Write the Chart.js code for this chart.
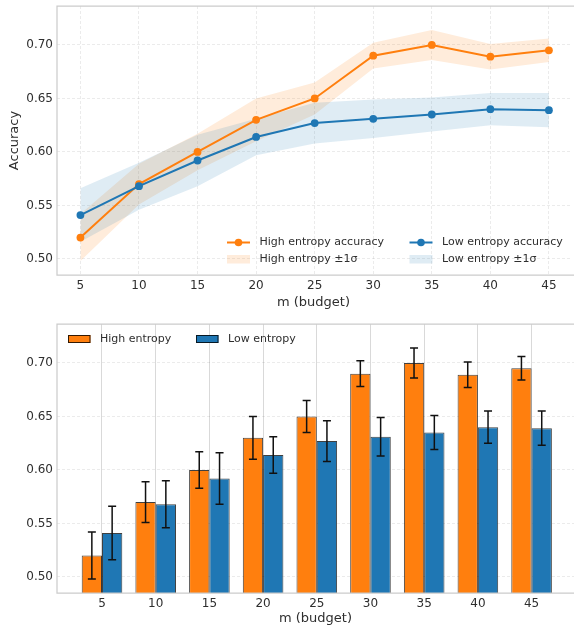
<!DOCTYPE html>
<html>
<head>
<meta charset="utf-8">
<script src="https://cdn.jsdelivr.net/npm/chart.js@4.4.1/dist/chart.umd.min.js"></script>
<style>
  html, body { margin: 0; padding: 0; background: #fff; overflow: hidden; }
  .panel { position: absolute; left: 0; }
</style>
</head>
<body>
<div class="panel" style="top:0"><canvas id="lineChart" width="574" height="312"></canvas></div>
<div class="panel" style="top:312px"><canvas id="barChart" width="574" height="314"></canvas></div>
<script>
// Budget values (x axis) and accuracy statistics per entropy group
const budgets  = [5, 10, 15, 20, 25, 30, 35, 40, 45];
const highMean = [0.520, 0.570, 0.600, 0.630, 0.650, 0.690, 0.700, 0.689, 0.695];
const highStd  = [0.022, 0.019, 0.017, 0.020, 0.015, 0.012, 0.014, 0.012, 0.011];
const lowMean  = [0.541, 0.568, 0.592, 0.614, 0.627, 0.631, 0.635, 0.640, 0.639];
const lowStd   = [0.025, 0.022, 0.024, 0.017, 0.019, 0.018, 0.016, 0.015, 0.016];
const yTicks   = [0.50, 0.55, 0.60, 0.65, 0.70];

const ORANGE = '#ff7f0e';
const BLUE = '#1f77b4';
const ORANGE_BAND = 'rgba(255,127,14,0.15)';
const BLUE_BAND = 'rgba(31,119,180,0.14)';
const TEXT = '#2e2e2e';
const SPINE = '#cccccc';
const DASH_GRID = 'rgba(0,0,0,0.10)';

Chart.defaults.font.family = 'DejaVu Sans';
Chart.defaults.color = TEXT;
Chart.defaults.animation = false;

const pts = (ys) => budgets.map((m, i) => ({ x: m, y: ys[i] }));
const shift = (ys, sd, k) => ys.map((v, i) => v + k * sd[i]);

function yAxis(title) {
  return {
    min: 0.485, max: 0.7364,
    afterBuildTicks: s => { s.ticks = yTicks.map(v => ({ value: v })); },
    ticks: { callback: v => Number(v).toFixed(2), font: { size: 12 }, padding: 4, color: TEXT },
    grid: { color: DASH_GRID, lineWidth: 0.8, drawTicks: false },
    border: { display: false, dash: [3, 2] },
    title: title
      ? { display: true, text: title, font: { size: 13 }, color: TEXT, padding: { top: 7, bottom: 0 } }
      : { display: false },
    afterFit: s => { s.width = 57; s.paddingTop = 0; s.paddingBottom = 0; }
  };
}

function xAxis(min, max, height, grid, tickPad, titlePad) {
  return {
    type: 'linear', min, max, offset: false,
    afterBuildTicks: s => { s.ticks = budgets.map(v => ({ value: v })); },
    ticks: { callback: v => String(v), font: { size: 12 }, padding: tickPad, maxRotation: 0, autoSkip: false, color: TEXT },
    grid,
    border: { display: false, dash: grid.dash || [] },
    title: { display: true, text: 'm (budget)', font: { size: 13 }, color: TEXT, padding: { top: 0, bottom: titlePad } },
    afterFit: s => { s.height = height; s.paddingLeft = 0; s.paddingRight = 0; }
  };
}

// Left, top and bottom spines of the axes frame
const frame = {
  id: 'frame',
  afterDatasetsDraw(chart) {
    const { ctx, chartArea: a } = chart;
    ctx.save();
    ctx.strokeStyle = SPINE;
    ctx.lineWidth = 1.25;
    ctx.beginPath();
    ctx.moveTo(chart.width, a.top); ctx.lineTo(a.left, a.top);
    ctx.lineTo(a.left, a.bottom); ctx.lineTo(chart.width, a.bottom);
    ctx.stroke();
    ctx.restore();
  }
};

// Legend for the line panel: two columns, two rows, lower right
const lineLegend = {
  id: 'lineLegend',
  afterDraw(chart) {
    const { ctx, chartArea: a } = chart;
    const rows = [a.bottom - 32.5, a.bottom - 16];
    const cols = [227, 409.5];
    const entries = [
      { col: 0, row: 0, kind: 'line', color: ORANGE, text: 'High entropy accuracy' },
      { col: 1, row: 0, kind: 'line', color: BLUE, text: 'Low entropy accuracy' },
      { col: 0, row: 1, kind: 'band', color: ORANGE_BAND, text: 'High entropy \u00b11\u03c3' },
      { col: 1, row: 1, kind: 'band', color: BLUE_BAND, text: 'Low entropy \u00b11\u03c3' }
    ];
    ctx.save();
    ctx.font = '11px "DejaVu Sans"';
    ctx.textBaseline = 'middle';
    entries.forEach(e => {
      const x = cols[e.col], y = rows[e.row];
      if (e.kind === 'line') {
        ctx.strokeStyle = e.color; ctx.lineWidth = 2;
        ctx.beginPath(); ctx.moveTo(x, y); ctx.lineTo(x + 23, y); ctx.stroke();
        ctx.fillStyle = e.color;
        ctx.beginPath(); ctx.arc(x + 11.5, y, 3.8, 0, Math.PI * 2); ctx.fill();
      } else {
        ctx.fillStyle = e.color;
        ctx.fillRect(x, y - 4, 23, 8.5);
      }
      ctx.fillStyle = TEXT;
      ctx.fillText(e.text, x + 32.5, y);
    });
    ctx.restore();
  }
};

// Error bars (±1σ) on top of each bar
const errorBars = {
  id: 'errorBars',
  afterDatasetsDraw(chart) {
    const { ctx } = chart;
    const ys = chart.scales.y;
    ctx.save();
    ctx.strokeStyle = '#111111';
    ctx.lineWidth = 1.5;
    chart.data.datasets.forEach((ds, i) => {
      chart.getDatasetMeta(i).data.forEach((bar, j) => {
        const v = ds.data[j].y, e = ds.errors[j];
        const t = ys.getPixelForValue(v + e), b = ys.getPixelForValue(v - e);
        const x = bar.x;
        ctx.beginPath();
        ctx.moveTo(x, t); ctx.lineTo(x, b);
        ctx.moveTo(x - 4, t); ctx.lineTo(x + 4, t);
        ctx.moveTo(x - 4, b); ctx.lineTo(x + 4, b);
        ctx.stroke();
      });
    });
    ctx.restore();
  }
};

// Legend for the bar panel: one row, upper left
const barLegend = {
  id: 'barLegend',
  afterDraw(chart) {
    const { ctx, chartArea: a } = chart;
    const y = a.top + 15;
    const entries = [
      { x: 68, color: ORANGE, text: 'High entropy' },
      { x: 196, color: BLUE, text: 'Low entropy' }
    ];
    ctx.save();
    ctx.font = '11px "DejaVu Sans"';
    ctx.textBaseline = 'middle';
    entries.forEach(e => {
      ctx.fillStyle = e.color;
      ctx.fillRect(e.x, y - 4, 22.5, 8);
      ctx.strokeStyle = 'rgba(0,0,0,0.8)';
      ctx.lineWidth = 1;
      ctx.strokeRect(e.x + 0.5, y - 3.5, 21.5, 7);
      ctx.fillStyle = TEXT;
      ctx.fillText(e.text, e.x + 32, y);
    });
    ctx.restore();
  }
};

// Top panel: mean accuracy lines with ±1σ bands
new Chart(document.getElementById('lineChart'), {
  type: 'line',
  data: {
    datasets: [
      { data: pts(shift(highMean, highStd, -1)), borderWidth: 0, pointRadius: 0, fill: false, order: 3 },
      { data: pts(shift(highMean, highStd, 1)), borderWidth: 0, pointRadius: 0, fill: '-1', backgroundColor: ORANGE_BAND, order: 3 },
      { data: pts(shift(lowMean, lowStd, -1)), borderWidth: 0, pointRadius: 0, fill: false, order: 2 },
      { data: pts(shift(lowMean, lowStd, 1)), borderWidth: 0, pointRadius: 0, fill: '-1', backgroundColor: BLUE_BAND, order: 2 },
      { label: 'High entropy accuracy', data: pts(highMean), borderColor: ORANGE, backgroundColor: ORANGE,
        borderWidth: 2, pointRadius: 3.9, pointBorderWidth: 0, fill: false, order: 1 },
      { label: 'Low entropy accuracy', data: pts(lowMean), borderColor: BLUE, backgroundColor: BLUE,
        borderWidth: 2, pointRadius: 3.9, pointBorderWidth: 0, fill: false, order: 0 }
    ]
  },
  options: {
    responsive: false,
    events: [],
    layout: { padding: { top: 6, left: 0, right: 0, bottom: 0 } },
    plugins: { legend: { display: false }, tooltip: { enabled: false } },
    scales: {
      x: xAxis(3, 46.8, 37, { color: DASH_GRID, lineWidth: 0.8, drawTicks: false, dash: [3, 2] }, 4, 2),
      y: yAxis('Accuracy')
    }
  },
  plugins: [frame, lineLegend]
});

// Bottom panel: grouped bars with error bars
new Chart(document.getElementById('barChart'), {
  type: 'bar',
  data: {
    datasets: [
      { label: 'High entropy', data: pts(highMean), errors: highStd, backgroundColor: ORANGE,
        borderColor: 'rgba(0,0,0,0.75)', borderWidth: 1, categoryPercentage: 0.756, barPercentage: 1 },
      { label: 'Low entropy', data: pts(lowMean), errors: lowStd, backgroundColor: BLUE,
        borderColor: 'rgba(0,0,0,0.75)', borderWidth: 1, categoryPercentage: 0.756, barPercentage: 1 }
    ]
  },
  options: {
    responsive: false,
    events: [],
    layout: { padding: { top: 12, left: 0, right: 0, bottom: 0 } },
    plugins: { legend: { display: false }, tooltip: { enabled: false } },
    scales: {
      x: xAxis(0.81, 48.95, 33, { color: '#d9d9d9', lineWidth: 1, drawTicks: false, offset: false }, 4, 0),
      y: yAxis(null)
    }
  },
  plugins: [errorBars, frame, barLegend]
});
</script>
</body>
</html>
